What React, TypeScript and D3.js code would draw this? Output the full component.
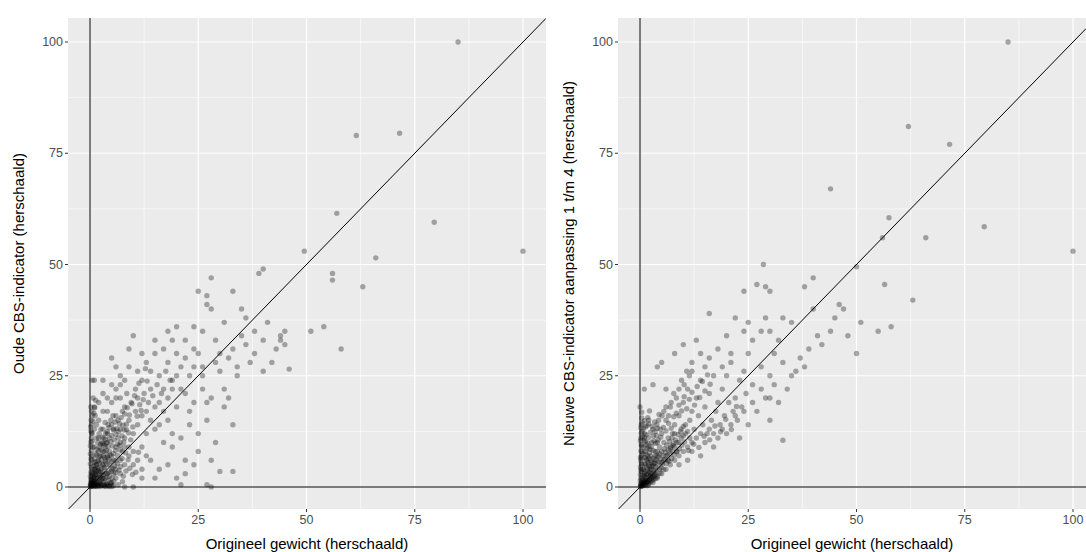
import React from "react";
import * as d3 from "d3";

// Left panel: [origineel gewicht, oude CBS-indicator]
const oudePunten: [number, number][] = [
  [85,100],[61.5,79],[71.5,79.5],[79.5,59.5],[100,53],[57,61.5],[66,51.5],[49.5,53],[56,48],[56,46.5],
  [63,45],[58,31],[51,35],[54,36],[44,34],[44,33],[46,26.5],[40,49],[39,48],[28,47],[25,44],[27,43],
  [33,44],[35,40],[31,37],[36,32],[32,29],[27,41],[28,40],[25,30],[22,29],[20,36],[18,35],[15,30],
  [13,28],[10,34],[9,31],[7,25],[5,29],[0.5,24],[1,24],[30,3.5],[33,3.5],[27,0.5],[28,0],[21,0.5],
  [20,2],[15,2],[10,0],[8,0],[25,8],[33,14],[32,20],[45,35],[38,30],[40,26],[42,28],[34,25],[30,26],
  [29,33],[26,35],[24,31],[23,25],[21,27],[19,24],[17,22],[22,21],[24,19],[26,22],[28,20],[31,18],
  [27,15],[23,14],[20,18],[18,15],[16,19],[14,22],[12,24],[11,20],[13,17],[15,13],[17,10],[19,9],
  [21,11],[25,12],[29,10],[22,6],[18,5],[14,6],[12,9],[10,12],[9,15],[8,18],[7,20],[6,22],[5,19],
  [4,17],[3,21],[2,15],[1,18],[0.5,12],[1,9],[2,11],[3,13],[4,12],[5,14],[6,16],[7,13],[8,11],
  [9,9],[10,8],[11,14],[12,16],[13,12],[14,15],[15,18],[16,14],[17,17],[18,20],[19,22],[20,25],
  [11,26],[8,24],[6,27],[9,27],[12,30],[14,26],[16,25],[18,28],[20,30],[17,31],[15,33],[24,36],
  [22,33],[19,33],[26,27],[30,30],[36,38],[41,37],[6,4],[7,6],[8,5],[9,7],[10,5],[11,6],[12,4],
  [13,7],[7,3],[6,2],[5,1],[4,3],[3,2],[2,1],[1,0.5],[0.5,0.2],[0.2,1],[0.3,2],[0.8,3],[1.2,4],
  [1.5,5],[2,6],[2.5,7],[3,8],[3.5,9],[4,10],[4.5,8],[5,7],[5.5,6],[6,9],[6.5,11],[7,10],[7.5,8],
  [8,9],[1,1],[1.5,2],[2,3],[2.5,4],[3,5],[3.5,6],[4,7],[4.5,5],[5,4],[5.5,3],[6,6],[0.2,0.5],
  [0.4,1.5],[0.6,2.5],[0.7,4],[0.9,5.5],[1.1,6.5],[1.3,7.5],[1.6,8.5],[1.8,10],[2.1,12],[0.3,14],
  [0.5,16],[0.2,18],[0.4,7],[0.6,9],[0.3,11],[1,13],[1.5,14],[2.2,9],[2.8,10],[3.2,11],[3.6,12],
  [4.2,14],[4.8,15],[5.3,16],[0.1,0.1],[0.2,0.3],[0.5,0.8],[0.8,0.4],[1.2,0.9],[1.6,0.6],[2.1,0.8],
  [2.6,1.5],[3.1,1.2],[3.7,0.8],[4.3,1.5],[0.9,1.8],[1.4,2.7],[1.9,3.6],[2.4,2.2],[2.9,3.3],
  [3.4,4.4],[3.9,5.1],[4.4,6.2],[4.9,5.8],[5.4,7.5],[5.9,8.2],[6.4,7.1],[6.9,9.3],[7.4,11.5],
  [7.9,12.8],[8.4,14.1],[8.9,12.2],[9.4,10.6],[9.9,13.5],[10.5,17],[11.5,18.5],[12.5,21],[13.5,19],
  [14.5,20.5],[15.5,23],[16.5,21],[17.5,26],[18.5,24],[9.5,19],[10.5,22],[8.5,21],[7.5,17],
  [6.5,15],[5.5,13],[4.5,11],[3.5,14.5],[2.5,13],[1.5,11],[0.7,20],[1.2,16],[2,19],[3,17],[4,20],
  [5,23],[6,20],[7,23],[3,24],[12,2],[16,4],[22,3],[24,5],[28,6],[19,12],[23,17],[27,19],[31,22],
  [34,27],[37,28],[40,33],[43,31],[45,32],[38,35],[35,34],[33,31],[29,28],[26,25],[24,27],[21,22],
  // dense cluster near the origin
  [0.1,0.6],[0.3,0.9],[0.5,1.3],[0.7,1.1],[0.9,0.7],[1.1,1.4],[1.3,0.3],[1.5,1.2],[1.7,1.9],[1.9,0.4],
  [2.1,2.1],[2.3,1.1],[2.5,0.3],[2.7,2.6],[2.9,1.8],[3.1,2.8],[3.3,0.5],[3.5,1.9],[3.7,3.1],[3.9,2.2],
  [4.1,0.4],[4.3,3.3],[4.5,2.4],[4.7,1.0],[4.9,3.5],[5.1,2.0],[5.3,4.2],[5.5,1.3],[5.7,4.8],[5.9,3.2],
  [0.1,2.4],[0.2,3.3],[0.3,4.4],[0.1,5.2],[0.2,6.3],[0.4,6.1],[0.1,7.4],[0.3,8.2],[0.5,10.3],[0.2,12.6],
  [0.6,3.3],[0.8,4.7],[1.0,2.2],[1.2,5.6],[1.4,3.6],[1.6,7.2],[1.8,4.4],[2.0,8.1],[2.2,5.3],[2.4,9.6],
  [2.6,6.2],[2.8,11.2],[3.0,7.0],[3.2,9.4],[3.4,6.6],[3.6,10.7],[3.8,8.2],[4.0,12.4],[4.2,9.1],[4.4,13.3],
  [4.6,7.2],[4.8,10.2],[5.0,11.6],[5.2,9.2],[5.4,12.8],[5.6,10.6],[5.8,14.6],[6.0,11.8],[6.2,13.1],[6.4,9.6],
  [6.6,12.4],[6.8,14.2],[7.0,8.3],[7.2,15.6],[7.4,6.4],[7.6,13.9],[7.8,10.1],[8.0,16.4],[8.2,7.7],[8.4,12.9],
  [0.2,1.6],[0.4,2.9],[0.6,0.5],[0.8,2.1],[1.0,3.9],[1.2,2.8],[1.4,4.9],[1.6,3.1],[1.8,5.8],[2.0,4.1],
  [2.2,6.9],[2.4,3.4],[2.6,8.3],[2.8,5.1],[3.0,9.8],[3.2,4.3],[3.4,7.9],[3.6,5.6],[3.8,9.9],[4.0,6.7],
  [0.3,0.1],[0.6,0.3],[0.9,0.1],[1.2,0.2],[1.5,0.1],[1.8,0.3],[2.1,0.1],[2.4,0.6],[2.7,0.2],[3.0,0.4],
  [3.3,0.2],[3.6,0.1],[3.9,0.6],[4.2,0.2],[4.5,0.1],[4.8,0.5],[5.1,0.1],[5.4,0.3],[6.5,0.5],[7.5,1.2],
  [0.15,13.5],[0.25,15],[0.35,17],[0.1,9.2],[0.2,10.1],[0.4,12.2],[0.7,14.8],[0.9,16.6],[1.1,17.8],[1.3,19.5],
  [6.3,5.2],[6.7,3.8],[7.1,4.6],[7.7,2.4],[8.3,3.6],[8.8,6.1],[9.2,4.2],[9.8,2.8],[10.6,3.3],[11.2,7.8],
  [8.6,17.8],[9.1,16.2],[9.7,18.7],[10.3,20.5],[10.9,15.9],[11.3,23.3],[11.8,17.2],[12.3,19.6],[12.8,26.6],[13.2,23.8],
];

// Right panel: [origineel gewicht, nieuwe CBS-indicator aanpassing 1 t/m 4]
const nieuwePunten: [number, number][] = [
  [85,100],[62,81],[71.5,77],[44,67],[57.5,60.5],[66,56],[56,56],[79.5,58.5],[100,53],[50,49.5],
  [56.5,45.5],[63,42],[58,36],[51,37],[55,35],[46,41],[45,38],[40,47],[38,45],[28.5,50],[29,45],
  [24,44],[27,45.5],[30,44],[35,37],[32,33],[33,10.5],[28,35],[25,37],[22,38],[16,39],[20,34],
  [14,30],[10,32],[8,30],[5,28],[6,22],[4,27],[3,23],[1,22],[0,18],[0.3,14],[2,15],[20,25],[25,30],
  [30,25],[40,40],[44,35],[42,32],[47,40],[48,34],[50,30],[34,22],[30,15],[37,29],[39,31],[41,34],
  [36,26],[33,28],[31,30],[28,27],[26,23],[24,26],[22,20],[23,24],[21,28],[19,22],[17,25],[18,19],
  [16,21],[15,18],[14,24],[13,20],[12,17],[11,22],[10,19],[9,16],[8,14],[7,18],[6,15],[5,12],
  [4,10],[3,13],[2,9],[1,11],[0.5,8],[1.5,6],[2.5,7],[3.5,8],[4.5,9],[5.5,10],[6.5,11],[7.5,12],
  [8.5,10],[9.5,13],[10.5,14],[11.5,15],[12.5,13],[13.5,16],[14.5,14],[15.5,12],[16.5,15],[17.5,17],
  [18.5,14],[19.5,16],[20.5,19],[21.5,17],[22.5,15],[23.5,18],[24.5,21],[26,19],[27,17],[29,20],
  [31,23],[32,19],[35,25],[38,27],[17,9],[14,7],[12,8],[11,6],[9,7],[20,12],[25,14],[23,11],
  [19,27],[16,29],[18,31],[12,26],[13,33],[15,27],[21,30],[26,33],[24,35],[30,35],[29,38],[33,38],
  [0.1,0.1],[0.2,0.4],[0.4,0.2],[0.6,0.8],[0.8,1.2],[1,0.5],[1.2,1.6],[1.4,2.1],[1.6,1],[1.8,2.8],
  [2,1.5],[2.2,3.2],[2.4,2.4],[2.6,4],[2.8,3],[3,4.8],[3.2,3.6],[3.4,5.4],[3.6,4.5],[3.8,6],[4,5],
  [4.2,6.8],[4.4,5.6],[4.6,7.4],[4.8,6.3],[5,8],[5.3,7],[5.6,8.6],[5.9,7.8],[6.2,9.4],[6.5,8.3],
  [6.8,10.2],[7.1,9],[7.4,11],[7.7,9.7],[8,12],[0.2,2],[0.3,3.5],[0.4,5],[0.5,6.5],[0.6,4],[0.7,7.5],
  [0.8,9],[0.9,10.5],[1.1,12],[1.3,13.5],[0.2,11],[0.3,9.5],[0.5,12.5],[0.4,15.5],[1.2,8],[1.5,9.5],
  [1.7,4],[1.9,5.5],[2.1,6.5],[2.3,8.5],[2.7,10],[3.1,11.5],[3.5,12.5],[3.9,14],[4.3,15],[4.7,13],
  [5.1,16],[5.5,17],[6,18],[6.6,16],[7.2,19],[7.8,21],[8.4,20],[9,22],[9.6,24],[10.2,23],[10.8,26],
  [11.4,25],[12,28],[2,0.5],[3,1],[4,2],[5,3],[6,4],[7,5],[8,6],[9,5],[10,8],[11,9],[12,10],
  [13,11],[14,12],[15,10],[16,13],[17,12],[18,11],[19,13],[21,14],[22,16],[24,17],[28,22],[30,20],
  [1,3],[1.5,4.5],[2,5],[2.5,6],[3,6.5],[3.5,7],[4,8],[4.5,4],[5,5.5],[5.5,6],[6,7],[6.5,6],[7,7.5],
  [7.5,8],[8,9],[8.5,8],[9,10],[9.5,11],[10,11.5],[10.5,12],[11,12.5],[11.5,11],[0.1,1.5],[0.2,6],
  [0.3,7],[0.1,4.5],[0.6,1.5],[0.9,2.5],[1.1,3.5],[1.3,5],[1.6,6.2],[1.8,7],[2.3,4.5],[2.6,5.5],
  // dense cluster near the origin
  [0.1,0.7],[0.3,1.1],[0.5,0.4],[0.7,1.7],[0.9,0.9],[1.1,2.3],[1.3,1.2],[1.5,2.9],[1.7,1.6],[1.9,3.4],
  [2.1,2.2],[2.3,3.9],[2.5,2.7],[2.7,4.6],[2.9,2.1],[3.1,5.3],[3.3,3.1],[3.5,6.1],[3.7,3.8],[3.9,7.1],
  [0.1,2.8],[0.2,3.9],[0.3,5.4],[0.1,6.6],[0.2,8.1],[0.4,9.2],[0.1,10.4],[0.3,12.1],[0.2,13.3],[0.5,14.4],
  [0.6,2.6],[0.8,3.9],[1.0,5.2],[1.2,6.6],[1.4,7.3],[1.6,8.6],[1.8,9.9],[2.0,11.1],[2.2,7.7],[2.4,12.3],
  [2.6,9.1],[2.8,13.6],[3.0,8.2],[3.2,10.4],[3.4,14.6],[3.6,9.8],[3.8,11.6],[4.0,13.2],[4.2,10.6],[4.4,16.3],
  [0.2,0.2],[0.4,0.6],[0.6,0.2],[0.8,0.5],[1.0,1.1],[1.2,0.4],[1.4,0.9],[1.6,0.3],[1.8,1.3],[2.0,0.8],
  [2.2,1.6],[2.4,1.1],[2.6,1.9],[2.8,1.4],[3.0,2.3],[3.2,1.7],[3.4,2.6],[3.6,1.9],[3.8,2.9],[4.0,2.4],
  [4.6,3.1],[4.9,4.3],[5.2,5.1],[5.5,3.9],[5.8,6.2],[6.1,5.3],[6.4,7.2],[6.7,5.8],[7.0,8.6],[7.3,6.4],
  [7.6,9.3],[7.9,7.2],[8.2,10.6],[8.5,7.9],[8.8,11.8],[9.1,8.6],[9.4,12.4],[9.7,9.4],[10.0,13.6],[10.3,10.1],
  [0.4,16.8],[0.6,11.3],[0.8,13.1],[1.0,14.9],[1.2,10.2],[1.4,11.7],[1.6,13.8],[1.8,15.6],[2.0,14.2],[2.2,17.1],
  [4.8,11.2],[5.4,13.4],[6.0,12.6],[6.6,14.3],[7.2,13.2],[7.8,15.8],[8.4,16.6],[9.0,18.4],[9.6,17.1],[10.2,20.3],
  [10.8,17.6],[11.4,19.7],[12.0,21.3],[12.6,18.4],[13.2,22.6],[13.8,20.1],[14.4,23.7],[15.0,21.6],[15.6,25.2],[16.2,23.1],
  [11.2,8.2],[12.4,9.6],[13.6,8.9],[14.8,11.4],[16.1,10.6],[17.3,13.7],[18.6,12.4],[19.8,15.2],[21.1,12.9],[22.3,18.1],
];

const xTicks = [0, 25, 50, 75, 100];
const yTicks = [0, 25, 50, 75, 100];
const minorTicks = [12.5, 37.5, 62.5, 87.5];

const W = 1086;
const H = 552;

function Panel({ left, right, data, yTitle }: { left: number; right: number; data: [number, number][]; yTitle: string }) {
  const top = 18;
  const bottom = 509;
  const x = d3.scaleLinear().domain([0, 100]).range([left + 22, left + 22 + 433]);
  const y = d3.scaleLinear().domain([0, 100]).range([487, 42]);
  const x0 = x.invert(left);
  const x1 = x.invert(right);
  const y0 = y.invert(bottom);
  const y1 = y.invert(top);
  const lo = Math.max(x0, y0);
  const hi = Math.min(x1, y1);
  return (
    <g>
      <defs>
        <clipPath id={`clip${left}`}>
          <rect x={left} y={top} width={right - left} height={bottom - top} />
        </clipPath>
      </defs>
      <rect x={left} y={top} width={right - left} height={bottom - top} fill="#EBEBEB" />
      {minorTicks.map((t) => (
        <g key={"m" + t}>
          <line x1={x(t)} x2={x(t)} y1={top} y2={bottom} stroke="#fff" strokeWidth={0.6} />
          <line x1={left} x2={right} y1={y(t)} y2={y(t)} stroke="#fff" strokeWidth={0.6} />
        </g>
      ))}
      {xTicks.map((t) => (
        <line key={"gx" + t} x1={x(t)} x2={x(t)} y1={top} y2={bottom} stroke="#fff" strokeWidth={1.2} />
      ))}
      {yTicks.map((t) => (
        <line key={"gy" + t} x1={left} x2={right} y1={y(t)} y2={y(t)} stroke="#fff" strokeWidth={1.2} />
      ))}
      <g clipPath={`url(#clip${left})`}>
        {data.map((d, i) => (
          <circle key={i} cx={x(d[0])} cy={y(d[1])} r={2.7} fill="#000" fillOpacity={0.32} />
        ))}
        <line x1={x(0)} x2={x(0)} y1={top} y2={bottom} stroke="#000" strokeWidth={1} />
        <line x1={left} x2={right} y1={y(0)} y2={y(0)} stroke="#000" strokeWidth={1} />
        <line x1={x(lo)} y1={y(lo)} x2={x(hi)} y2={y(hi)} stroke="#000" strokeWidth={1} />
      </g>
      {xTicks.map((t) => (
        <g key={"tx" + t}>
          <line x1={x(t)} x2={x(t)} y1={bottom} y2={bottom + 3} stroke="#333" />
          <text x={x(t)} y={bottom + 15} textAnchor="middle" fontSize={12.5} fill="#4D4D4D">{t}</text>
        </g>
      ))}
      {yTicks.map((t) => (
        <g key={"ty" + t}>
          <line x1={left - 3} x2={left} y1={y(t)} y2={y(t)} stroke="#333" />
          <text x={left - 5} y={y(t) + 4} textAnchor="end" fontSize={12.5} fill="#4D4D4D">{t}</text>
        </g>
      ))}
      <text x={(left + right) / 2} y={H - 3} textAnchor="middle" fontSize={15} fill="#000">
        Origineel gewicht (herschaald)
      </text>
      <text transform={`translate(${left - 44},${(top + bottom) / 2}) rotate(-90)`} textAnchor="middle" fontSize={15} fill="#000">
        {yTitle}
      </text>
    </g>
  );
}

export default function App() {
  return (
    <svg width={W} height={H} style={{ position: "absolute", left: 0, top: 0, background: "#fff", fontFamily: "Liberation Sans, Arial, sans-serif" }}>
      <Panel left={68} right={546} data={oudePunten} yTitle="Oude CBS-indicator (herschaald)" />
      <Panel left={618} right={1086} data={nieuwePunten} yTitle="Nieuwe CBS-indicator aanpassing 1 t/m 4 (herschaald)" />
    </svg>
  );
}
